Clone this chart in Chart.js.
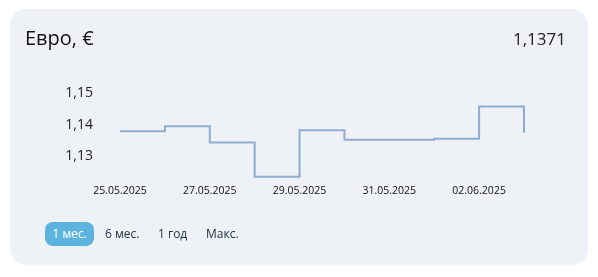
<!DOCTYPE html>
<html>
<head>
<meta charset="utf-8">
<script src="https://cdn.jsdelivr.net/npm/chart.js@4/dist/chart.umd.min.js"></script>
<style>
  html, body { margin:0; padding:0; background:#ffffff; }
  body { width:598px; height:277px; position:relative; overflow:hidden; font-family:"Open Sans","Noto Sans",sans-serif; }
  .card { position:absolute; left:10px; top:9px; width:578px; height:256px; background:#eef2f6; border-radius:16px; }
  #wrap { position:absolute; left:0; top:0; width:598px; height:277px; }
  .title { position:absolute; left:25px; top:25px; font-size:20px; color:#111; line-height:26px; }
  .value { position:absolute; right:32px; top:27px; font-size:17px; color:#222; line-height:24px; }
  .btn { position:absolute; top:222px; height:24px; line-height:24px; font-size:12px; color:#1d2d44; }
  .btn.active { background:#5ab4de; color:#fff; border-radius:8px; text-align:center; }
</style>
</head>
<body>
<div class="card"></div>
<div id="wrap"><canvas id="c" width="598" height="277"></canvas></div>
<div class="title">Евро, €</div>
<div class="value">1,1371</div>
<div class="btn active" style="left:45px;width:49px;">1 мес.</div>
<div class="btn" style="left:105px;">6 мес.</div>
<div class="btn" style="left:158px;">1 год</div>
<div class="btn" style="left:206px;">Макс.</div>
<script>
const dates = ["25.05.2025","26.05.2025","27.05.2025","28.05.2025","29.05.2025","30.05.2025","31.05.2025","01.06.2025","02.06.2025","03.06.2025"];
const rates = [1.1379, 1.1395, 1.1343, 1.1235, 1.1382, 1.1352, 1.1352, 1.1355, 1.1457, 1.1374];
const yTicks = [1.13, 1.14, 1.15];

new Chart(document.getElementById('c'), {
  type: 'line',
  data: {
    labels: dates,
    datasets: [{
      data: rates,
      stepped: 'before',
      borderColor: '#8eacd3',
      borderWidth: 2,
      pointRadius: 0,
      fill: false
    }]
  },
  options: {
    responsive: false,
    animation: false,
    events: [],
    layout: { padding: { left: 60, right: 74, top: 93, bottom: 74 } },
    plugins: { legend: { display: false }, tooltip: { enabled: false } },
    scales: {
      x: {
        offset: false,
        grid: { display: false, drawTicks: false },
        border: { display: false },
        afterFit: s => { s.height = 20; },
        ticks: {
          autoSkip: false, maxRotation: 0, padding: 2,
          color: '#111', font: { family: '"Open Sans","Noto Sans",sans-serif', size: 10.5 },
          callback: function(v, i) { return i % 2 === 0 ? this.getLabelForValue(v) : ''; }
        }
      },
      y: {
        min: 1.1215, max: 1.15,
        grid: { display: false, drawTicks: false },
        border: { display: false },
        afterFit: s => { s.width = 60; },
        afterBuildTicks: s => { s.ticks = yTicks.map(v => ({ value: v })); },
        ticks: {
          padding: 27,
          color: '#222', font: { family: '"Open Sans","Noto Sans",sans-serif', size: 14 },
          callback: v => v.toFixed(2).replace('.', ',')
        }
      }
    }
  }
});
</script>
</body>
</html>
